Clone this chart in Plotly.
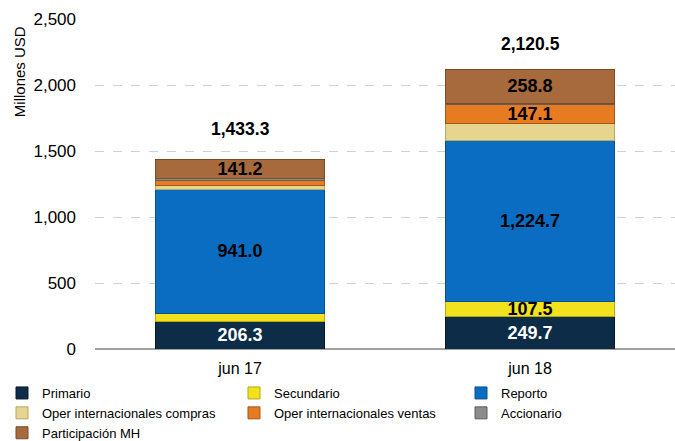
import plotly.graph_objects as go

categories = ["jun 17", "jun 18"]
series_names = ["Primario", "Secundario", "Reporto", "Oper internacionales compras",
                "Oper internacionales ventas", "Accionario", "Participación MH"]
primario = [206.3, 249.7]
secundario = [64.0, 107.5]
reporto = [941.0, 1224.7]
oper_compras = [28.0, 126.0]
oper_ventas = [40.0, 147.1]
accionario = [12.8, 6.7]
participacion_mh = [141.2, 258.8]
# which segments carry a printed value label
show_label = {
    "Primario": [True, True],
    "Secundario": [False, True],
    "Reporto": [True, True],
    "Oper internacionales compras": [False, False],
    "Oper internacionales ventas": [False, True],
    "Accionario": [False, False],
    "Participación MH": [True, True],
}
y_ticks = [0, 500, 1000, 1500, 2000, 2500]

values = [primario, secundario, reporto, oper_compras, oper_ventas, accionario, participacion_mh]
colors = ["#0c2c48", "#f2e21e", "#0b6dc2", "#e6d58e", "#e67b22", "#8c8c8c", "#a66a3c"]
line_colors = ["#061a2c", "#b8a810", "#07508f", "#b8a765", "#a8561a", "#5e5e5e", "#7a4b28"]
text_colors = ["white", "black", "black", "black", "black", "black", "black"]
# legend column for each series (three columns, as in the reference)
legend_ids = ["legend", "legend2", "legend3", "legend", "legend2", "legend3", "legend"]

FONT = "Liberation Sans, Arial"

fig = go.Figure()
for name, vals, c, lc, tc, lg in zip(series_names, values, colors, line_colors,
                                     text_colors, legend_ids):
    txt = [f"{v:,.1f}" if s else "" for v, s in zip(vals, show_label[name])]
    fig.add_trace(go.Bar(
        name=name, x=categories, y=vals, legend=lg,
        marker=dict(color=c, line=dict(color=lc, width=1)),
        text=txt, textposition="inside", insidetextanchor="middle",
        textfont=dict(family=FONT, size=18, color=tc, weight="bold"),
        cliponaxis=False,
    ))

totals = [sum(v[i] for v in values) for i in range(len(categories))]
total_shift = [31, 25]
for cat, tot, sh in zip(categories, totals, total_shift):
    fig.add_annotation(x=cat, y=tot, text=f"<b>{tot:,.1f}</b>", showarrow=False,
                       yshift=sh, font=dict(family=FONT, size=17.5, color="black"))

fig.add_annotation(xref="paper", yref="paper", x=-0.131, y=0.839,
                   xanchor="center", yanchor="middle",
                   text="Millones USD", textangle=-90, showarrow=False,
                   font=dict(family=FONT, size=15, color="black"))

leg_common = dict(orientation="v", xref="container", yref="container",
                  y=1 - 378 / 441, yanchor="top", xanchor="left",
                  font=dict(size=13), itemwidth=30, tracegroupgap=0,
                  traceorder="normal", bgcolor="rgba(0,0,0,0)")

fig.update_layout(
    barmode="stack",
    bargap=0.42,
    width=675, height=441,
    margin=dict(l=95, r=0, t=19, b=92, autoexpand=False),
    plot_bgcolor="white", paper_bgcolor="white",
    uniformtext=dict(minsize=18, mode="show"),
    font=dict(family=FONT, color="black"),
    xaxis=dict(tickfont=dict(size=16), showline=False, ticks="",
               automargin=False, ticklabelstandoff=8),
    yaxis=dict(range=[0, 2500], tickvals=y_ticks, tickformat=",",
               tickfont=dict(size=17), showgrid=True, gridcolor="#d0d0d0",
               griddash="dash", zeroline=True, zerolinecolor="#a0a0a0",
               zerolinewidth=1.5, ticks="", ticklabelstandoff=18,
               automargin=False),
    legend=dict(x=2 / 675, **leg_common),
    legend2=dict(x=234 / 675, **leg_common),
    legend3=dict(x=461 / 675, **leg_common),
    showlegend=True,
)

fig.write_html("out.html", config={"displayModeBar": False},
               post_script="document.body.style.margin='0';")
